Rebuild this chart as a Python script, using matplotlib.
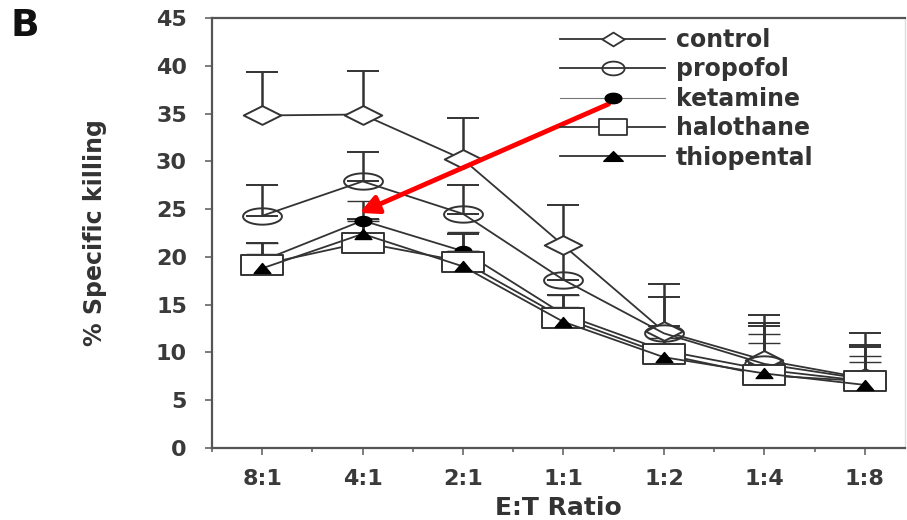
import matplotlib
matplotlib.use("Agg")
import matplotlib.pyplot as plt
import numpy as np
from matplotlib.path import Path
from matplotlib.lines import Line2D
from matplotlib.ticker import MultipleLocator, FixedLocator

plt.rcParams['font.family'] = ['DejaVu Sans']

ratios = ["8:1", "4:1", "2:1", "1:1", "1:2", "1:4", "1:8"]
control = [34.8, 34.9, 30.2, 21.2, 12.2, 9.2, 7.3]
control_err = [4.5, 4.6, 4.3, 4.2, 5.0, 4.7, 4.7]
propofol = [24.3, 27.9, 24.5, 17.6, 12.0, 8.8, 7.2]
propofol_err = [3.2, 3.1, 3.0, 3.5, 3.8, 4.0, 3.6]
ketamine = [19.6, 23.8, 20.6, 14.0, 10.2, 8.2, 7.0]
ketamine_err = [1.8, 2.0, 2.0, 2.0, 2.2, 3.7, 2.6]
halothane = [19.2, 21.5, 19.5, 13.6, 9.8, 7.6, 7.0]
halothane_err = [2.3, 2.5, 2.9, 2.4, 3.0, 5.5, 3.6]
thiopental = [18.8, 22.4, 19.0, 13.2, 9.5, 7.8, 6.6]
thiopental_err = [1.5, 1.6, 1.6, 1.6, 2.0, 3.2, 2.4]


def wide(kind, aspect):
    """Marker path stretched horizontally (reference image is stretched)."""
    if kind == 'D':
        v = [(-1, 0), (0, aspect), (1, 0), (0, -aspect), (-1, 0)]
        return Path(v, closed=True)
    if kind == 's':
        v = [(-1, -aspect), (1, -aspect), (1, aspect), (-1, aspect), (-1, -aspect)]
        return Path(v, closed=True)
    if kind == '^':
        v = [(-1, -aspect), (1, -aspect), (0, aspect), (-1, -aspect)]
        return Path(v, closed=True)
    t = np.linspace(0, 2 * np.pi, 61)
    return Path(np.column_stack([np.cos(t), aspect * np.sin(t)]), closed=True)


fig = plt.figure(figsize=(9.07, 5.2), dpi=100)
ax = fig.add_axes([0.2337, 0.1385, 0.764, 0.8269])

x = list(range(len(ratios)))
lc = '#333333'
series = [
    ("control", control, control_err,
     dict(marker=wide('D', 0.5), ms=27, mfc='white', mec=lc, mew=1.4),
     dict(marker=wide('D', 0.62), ms=16, mfc='white', mec=lc, mew=1.3)),
    ("propofol", propofol, propofol_err,
     dict(marker=wide('o', 0.42), ms=28, mfc='none', mec=lc, mew=1.4),
     dict(marker=wide('o', 0.62), ms=16, mfc='none', mec=lc, mew=1.3)),
    ("ketamine", ketamine, ketamine_err,
     dict(marker=wide('o', 0.6), ms=12, mfc='black', mec='black', mew=1),
     dict(marker=wide('o', 0.62), ms=12, mfc='black', mec='black', mew=1)),
    ("halothane", halothane, halothane_err,
     dict(marker=wide('s', 0.48), ms=30, mfc='white', mec=lc, mew=1.4),
     dict(marker=wide('s', 0.55), ms=20, mfc='white', mec=lc, mew=1.3)),
    ("thiopental", thiopental, thiopental_err,
     dict(marker=wide('^', 0.6), ms=12, mfc='black', mec='black', mew=1),
     dict(marker=wide('^', 0.5), ms=14, mfc='black', mec='black', mew=1)),
]
handles = []
for name, vals, err, mk, lmk in series:
    ax.errorbar(x, vals, yerr=[[0] * len(err), err], color=lc, lw=1.3,
                elinewidth=1.8, capsize=11.5, capthick=1.8, **mk)
    lw = 0.8 if name == "ketamine" else 1.3
    handles.append(Line2D([], [], color=lc if name != "ketamine" else '#777777',
                          lw=lw, label=name, **lmk))

ax.set_xlim(-0.5, 6.4)
ax.set_ylim(0, 45)
ax.yaxis.set_major_locator(MultipleLocator(5))
ax.xaxis.set_major_locator(FixedLocator(x))
ax.xaxis.set_minor_locator(FixedLocator([i + 0.5 for i in range(-1, 7)]))
ax.set_xticks(x)
ax.set_xticklabels(ratios)
for s in ax.spines.values():
    s.set_color('#555555')
    s.set_linewidth(1.6)
ax.spines['right'].set_color('#dddddd')
ax.spines['right'].set_linewidth(1.0)
ax.tick_params(axis='both', which='major', labelsize=16, colors='#666666',
               labelcolor='#3a3a3a', width=1.2, length=5, direction='out')
ax.tick_params(axis='x', which='minor', length=3, width=1.2, colors='#666666')
ax.tick_params(axis='x', pad=10)
ax.tick_params(axis='y', pad=13)
for lab in ax.get_xticklabels() + ax.get_yticklabels():
    lab.set_fontweight('bold')

ax.set_xlabel("E:T Ratio", fontsize=18, fontweight='bold', color='#333333', labelpad=5)
ax.set_ylabel("% Specific killing", fontsize=17, fontweight='bold', color='#333333', labelpad=35)

leg = fig.legend(handles=handles, loc='upper left',
                 bbox_to_anchor=(560 / 907, 1 - 28 / 520),
                 frameon=False, fontsize=17, handlelength=4.45, labelspacing=0.23,
                 handletextpad=0.45, borderpad=0, borderaxespad=0)
for t in leg.get_texts():
    t.set_fontweight('bold')
    t.set_color('#333333')

ax.annotate("", xy=(0.97, 24.6), xytext=(3.45, 36.0),
            arrowprops=dict(arrowstyle='-|>', color='red', lw=3.5,
                            mutation_scale=28, shrinkA=0, shrinkB=0))

fig.text(0.012, 0.93, "B", fontsize=27, fontweight='bold', color='#111111')

fig.savefig("out.png", dpi=100)
